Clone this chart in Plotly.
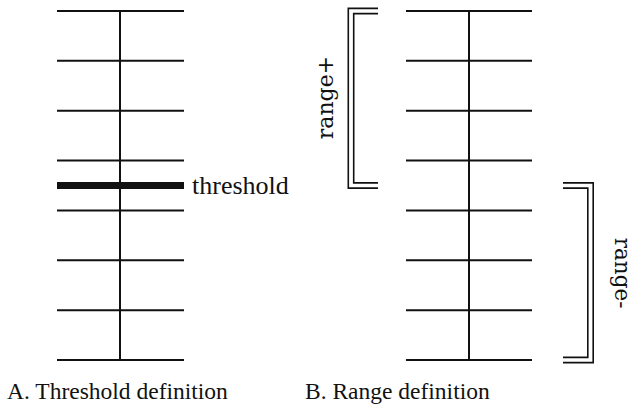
import plotly.graph_objects as go

# ---- data (levels on a vertical scale) ----
tick_levels = [0, 1, 2, 3, 4, 5, 6, 7]          # regular scale ticks (0 = bottom, 7 = top)
threshold_level = [3.5]                          # threshold tick in panel A
range_plus = [3.5, 7]                            # span of range+
range_minus = [0, 3.5]                           # span of range-
panel_titles = ["A. Threshold definition", "B. Range definition"]
threshold_label = "threshold"
range_labels = ["range+", "range-"]

# ---- layout constants (pixel-based horizontal positions) ----
W, H = 635, 408
px_per_level = 49.86
y_min = -(H - 360) / px_per_level
y_max = 360 / px_per_level

panelA = dict(x0=57, x1=184, xc=120)
panelB = dict(x0=406, x1=532, xc=469)

line_col = "#111111"
serif = "Liberation Serif, Times New Roman, serif"
serif2 = "DejaVu Serif, serif"

fig = go.Figure()

def hline(x0, x1, lev, width):
    fig.add_trace(go.Scatter(x=[x0, x1], y=[lev, lev], mode="lines",
                             line=dict(color=line_col, width=width),
                             hoverinfo="skip", showlegend=False))

def vline(x, lev0, lev1, width):
    fig.add_trace(go.Scatter(x=[x, x], y=[lev0, lev1], mode="lines",
                             line=dict(color=line_col, width=width),
                             hoverinfo="skip", showlegend=False))

# Panel A
for lv in tick_levels:
    hline(panelA["x0"], panelA["x1"], lv, 2)
for lv in threshold_level:
    hline(panelA["x0"], panelA["x1"], lv, 7)
vline(panelA["xc"], min(tick_levels), max(tick_levels), 2)

# Panel B
for lv in tick_levels:
    hline(panelB["x0"], panelB["x1"], lv, 2)
vline(panelB["xc"], min(tick_levels), max(tick_levels), 2)

# Double-line brackets
off = 2.6 / px_per_level   # level offset for 2.6 px
offx = 2.7

def bracket(lo, hi, x_open, x_spine, direction):
    for s in (+1, -1):  # outer (+1) and inner (-1)
        xs = x_spine + direction * s * offx
        xs_list = [x_open, xs, xs, x_open]
        ys = [hi + s * off, hi + s * off, lo - s * off, lo - s * off]
        fig.add_trace(go.Scatter(x=xs_list, y=ys, mode="lines",
                                 line=dict(color=line_col, width=1.6),
                                 hoverinfo="skip", showlegend=False))

bracket(range_plus[0], range_plus[1], 378, 351, -1)
bracket(range_minus[0], range_minus[1], 563, 590.5, +1)

annotations = [
    dict(x=190, y=threshold_level[0], xref="x", yref="y", text=threshold_label,
         showarrow=False, xanchor="left", yanchor="middle",
         font=dict(family=serif, size=26, color="#111")),
    dict(x=325, y=sum(range_plus) / 2, xref="x", yref="y", text=range_labels[0],
         showarrow=False, textangle=-90, xanchor="center", yanchor="middle",
         font=dict(family=serif2, size=22, color="#111")),
    dict(x=622, y=sum(range_minus) / 2, xref="x", yref="y", text=range_labels[1],
         showarrow=False, textangle=90, xanchor="center", yanchor="middle",
         font=dict(family=serif2, size=21.5, color="#111")),
    dict(x=5, y=-0.62, xref="x", yref="y", text=panel_titles[0],
         showarrow=False, xanchor="left", yanchor="middle",
         font=dict(family=serif, size=23.5, color="#111")),
    dict(x=303, y=-0.62, xref="x", yref="y", text=panel_titles[1],
         showarrow=False, xanchor="left", yanchor="middle",
         font=dict(family=serif, size=23.5, color="#111")),
]

fig.update_layout(
    width=W, height=H,
    margin=dict(l=0, r=0, t=0, b=0),
    paper_bgcolor="white", plot_bgcolor="white",
    xaxis=dict(range=[0, W], visible=False, fixedrange=True),
    yaxis=dict(range=[y_min, y_max], visible=False, fixedrange=True),
    annotations=annotations,
    showlegend=False,
)

fig.write_html("out.html", config={"displayModeBar": False},
               post_script="document.body.style.margin='0';document.body.style.overflow='hidden';")
